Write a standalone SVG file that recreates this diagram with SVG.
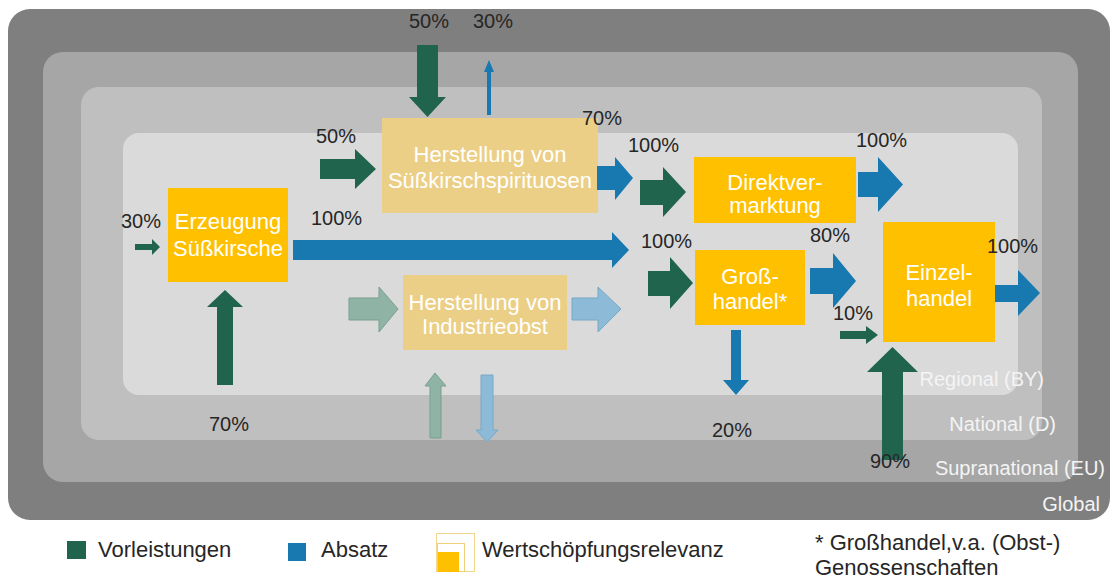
<svg xmlns="http://www.w3.org/2000/svg" width="1113" height="581" viewBox="0 0 1113 581">
<defs>
<style>
.pct{font-family:"Liberation Sans",Arial,sans-serif;font-size:20px;fill:#262626}
.nt{font-family:"Liberation Sans",Arial,sans-serif;font-size:22px;fill:#ffffff;text-anchor:middle}
.lay{font-family:"Liberation Sans",Arial,sans-serif;font-size:20px;fill:#f4f4f4;text-anchor:end}
.leg{font-family:"Liberation Sans",Arial,sans-serif;font-size:22px;fill:#262626}
.node{fill:#ffc000}
.fnode{fill:#ebcf86}
.g{fill:#20644e}
.b{fill:#1878b0}
.fg{fill:#8fb4a5;stroke:#789f8f;stroke-width:1}
.fb{fill:#8dbbd7;stroke:#74a8c8;stroke-width:1}
</style>
</defs>
<rect width="1113" height="581" fill="#ffffff"/>
<g id="layers">
<rect x="8" y="9" width="1102" height="511" rx="22" fill="#7f7f7f"/>
<rect x="43" y="52" width="1035" height="430" rx="20" fill="#a6a6a6"/>
<rect x="81" y="87" width="961" height="353" rx="18" fill="#bfbfbf"/>
<rect x="123" y="133" width="895" height="262" rx="16" fill="#dadada"/>
<text class="lay" x="1044" y="386">Regional (BY)</text>
<text class="lay" x="1056" y="431">National (D)</text>
<text class="lay" x="1105" y="475">Supranational (EU)</text>
<text class="lay" x="1100" y="511">Global</text>
</g>
<g id="node-erzeugung">
<rect class="node" x="168" y="188" width="120" height="94"/>
<text class="nt" x="228" y="229">Erzeugung</text>
<text class="nt" x="228" y="256">Süßkirsche</text>
</g>
<g id="node-spirituosen">
<rect class="fnode" x="382" y="118" width="216" height="95"/>
<text class="nt" x="490" y="162">Herstellung von</text>
<text class="nt" x="490" y="188">Süßkirschspirituosen</text>
</g>
<g id="node-industrieobst">
<rect class="fnode" x="403" y="275" width="164" height="75"/>
<text class="nt" x="485" y="310">Herstellung von</text>
<text class="nt" x="485" y="334">Industrieobst</text>
</g>
<g id="node-direkt">
<rect class="node" x="694" y="157" width="162" height="66"/>
<text class="nt" x="775" y="190">Direktver-</text>
<text class="nt" x="775" y="213">marktung</text>
</g>
<g id="node-gross">
<rect class="node" x="695" y="250" width="110" height="75"/>
<text class="nt" x="750" y="284">Groß-</text>
<text class="nt" x="750" y="309">handel*</text>
</g>
<g id="node-einzel">
<rect class="node" x="883" y="222" width="112" height="120"/>
<text class="nt" x="939" y="280">Einzel-</text>
<text class="nt" x="939" y="306">handel</text>
</g>
<g id="connectors">
<polygon class="g" points="135,244 152,244 152,239 160,247 152,255 152,250 135,250"/>
<polygon class="g" points="217,385 217,307 207,307 225,290 243,307 233,307 233,385"/>
<polygon class="g" points="417,45 438,45 438,97 446,97 427.5,117 409,97 417,97"/>
<polygon class="b" points="487,115 487,72 484,72 489,60 494,72 491,72 491,115"/>
<polygon class="g" points="320,159 355,159 355,149 376,169 355,189 355,179 320,179"/>
<polygon class="b" points="293,240 612,240 612,232 629,250 612,268 612,260 293,260"/>
<polygon class="b" points="597,166 615,166 615,157 633,178 615,200 615,190 597,190"/>
<polygon class="g" points="640,180 663,180 663,167 686,192 663,217 663,205 640,205"/>
<polygon class="g" points="648,271 670,271 670,257 693,283 670,309 670,296 648,296"/>
<polygon class="b" points="858,172 878,172 878,157 903,184.5 878,212 878,197 858,197"/>
<polygon class="b" points="810,268 833,268 833,253 856,281 833,308 833,294 810,294"/>
<polygon class="g" points="840,331 866,331 866,326 878,335 866,344 866,339 840,339"/>
<polygon class="b" points="995,285 1018,285 1018,270 1040,293 1018,316 1018,302 995,302"/>
<polygon class="b" points="731,330 741,330 741,380 749,380 736,395 723,380 731,380"/>
<polygon class="g" points="882,460 882,372 867,372 892.5,347 918,372 903,372 903,460"/>
<polygon class="fg" points="349,298 379,298 379,287 398,309 379,332 379,320 349,320"/>
<polygon class="fb" points="572,298 598,298 598,287 621,309 598,332 598,320 572,320"/>
<polygon class="fg" points="430,438 430,386 425,386 435,373 446,386 441,386 441,438"/>
<polygon class="fb" points="481,375 493,375 493,430 498,430 487,442 476,430 481,430"/>
</g>
<g id="labels">
<text class="pct" x="121" y="228">30%</text>
<text class="pct" x="209" y="431">70%</text>
<text class="pct" x="409" y="28">50%</text>
<text class="pct" x="473" y="28">30%</text>
<text class="pct" x="316" y="143">50%</text>
<text class="pct" x="311" y="225">100%</text>
<text class="pct" x="582" y="125">70%</text>
<text class="pct" x="628" y="152">100%</text>
<text class="pct" x="641" y="248">100%</text>
<text class="pct" x="856" y="147">100%</text>
<text class="pct" x="810" y="242">80%</text>
<text class="pct" x="833" y="320">10%</text>
<text class="pct" x="987" y="253">100%</text>
<text class="pct" x="712" y="437">20%</text>
<text class="pct" x="870" y="468">90%</text>
</g>
<g id="legend">
<rect x="67" y="541" width="19" height="18" fill="#20644e"/>
<text class="leg" x="98" y="557">Vorleistungen</text>
<rect x="288" y="543" width="18" height="18" fill="#1878b0"/>
<text class="leg" x="321" y="557">Absatz</text>
<rect x="436.5" y="533.5" width="38" height="38" fill="none" stroke="#f2d68c" stroke-width="1"/>
<rect x="437.5" y="543.5" width="27" height="28" fill="none" stroke="#f0cf78" stroke-width="1"/>
<rect x="438" y="552" width="21" height="20" fill="#ffc000"/>
<text class="leg" x="482" y="557">Wertschöpfungsrelevanz</text>
<text class="leg" x="815" y="550">* Großhandel,v.a. (Obst-)</text>
<text class="leg" x="815" y="575">Genossenschaften</text>
</g>
</svg>
